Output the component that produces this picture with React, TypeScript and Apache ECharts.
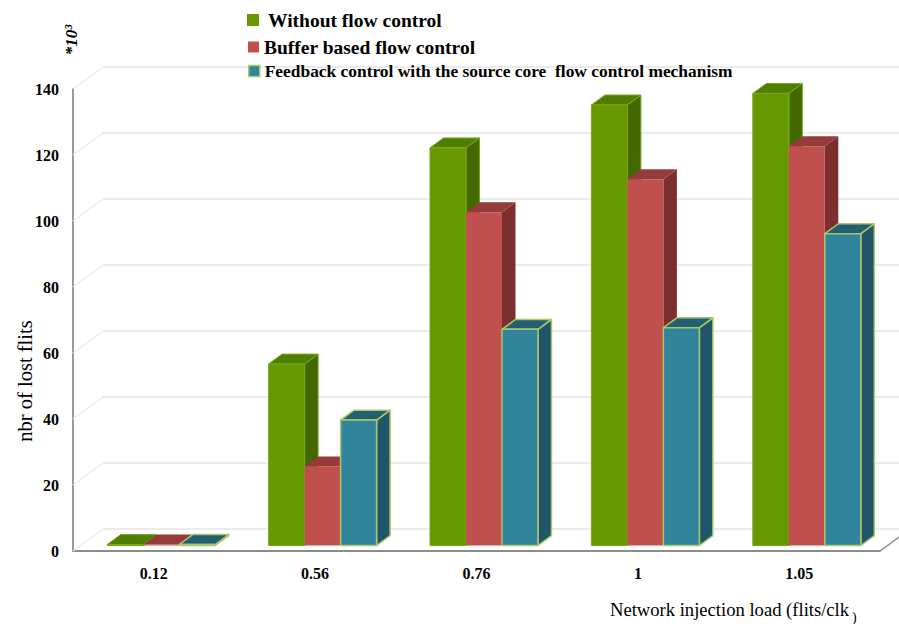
import React, { useEffect, useRef } from "react";
import * as echarts from "echarts";

const categories = ["0.12", "0.56", "0.76", "1", "1.05"];
const withoutFlow = [0.3, 55, 120.5, 133.5, 137];
const bufferBased = [0.3, 24, 101, 111, 121];
const feedbackCtrl = [0.3, 38, 65.5, 66, 94.5];
const yTicks = [0, 20, 40, 60, 80, 100, 120, 140];

const seriesNames = [
  "Without flow control",
  "Buffer based flow control",
  "Feedback control with the source core  flow control mechanism",
];

const SERIF = "'Liberation Serif', 'Times New Roman', serif";
const DX = 30;
const DY = -22;
const D0 = 0.25;
const D1 = 0.7;

const palettes = [
  { front: "#669900", top: "#4f7d00", side: "#436800", stroke: "#7aa81c", lw: 1 },
  { front: "#c0504d", top: "#953c3a", side: "#7b2f2e", stroke: "#c0504d", lw: 0 },
  { front: "#31849b", top: "#235f73", side: "#21566a", stroke: "#a9c86a", lw: 1.5 },
];

function makeBarRender(idx: number) {
  const pal = palettes[idx];
  return (params: any, api: any) => {
    const ci = api.value(0);
    const v = api.value(1);
    const base = api.coord([ci, 0]);
    const top = api.coord([ci, v]);
    const band = api.size([1, 0])[0];
    const w = band * 0.223;
    const offset = idx - 1;
    const x0 = base[0] + (offset - 0.5) * w + DX * D0;
    const x1 = x0 + w;
    const yb = base[1] + DY * D0;
    const yt = top[1] + DY * D0;
    const ddx = DX * (D1 - D0);
    const ddy = DY * (D1 - D0);
    const st = pal.lw > 0 ? { stroke: pal.stroke, lineWidth: pal.lw, lineJoin: "round" } : {};
    return {
      type: "group",
      children: [
        {
          type: "polygon",
          shape: { points: [[x1, yt], [x1 + ddx, yt + ddy], [x1 + ddx, yb + ddy], [x1, yb]] },
          style: { fill: pal.side, ...st },
        },
        {
          type: "polygon",
          shape: { points: [[x0, yt], [x1, yt], [x1 + ddx, yt + ddy], [x0 + ddx, yt + ddy]] },
          style: { fill: pal.top, ...st },
        },
        {
          type: "polygon",
          shape: { points: [[x0, yt], [x1, yt], [x1, yb], [x0, yb]] },
          style: { fill: pal.front, ...st },
        },
      ],
    };
  };
}

function renderWall(params: any, api: any) {
  const v = api.value(1);
  const p = api.coord([0, v]);
  const band = api.size([1, 0])[0];
  const xl = p[0] - band / 2;
  const xr = xl + band * categories.length;
  const children: any[] = [
    {
      type: "line",
      shape: { x1: xl, y1: p[1], x2: xl + DX, y2: p[1] + DY },
      style: { stroke: "#ececec", lineWidth: 1.5 },
    },
    {
      type: "line",
      shape: { x1: xl + DX, y1: p[1] + DY, x2: xr + DX, y2: p[1] + DY },
      style: { stroke: "#ebebeb", lineWidth: 2 },
    },
  ];
  if (v === 0) {
    children.push({
      type: "line",
      shape: { x1: xr, y1: p[1], x2: xr + DX, y2: p[1] + DY },
      style: { stroke: "#8c8c8c", lineWidth: 1.5 },
    });
  }
  return { type: "group", children };
}

export default function App() {
  const ref = useRef<HTMLDivElement>(null);
  useEffect(() => {
    if (!ref.current) return;
    const chart = echarts.init(ref.current, null, { renderer: "svg" });
    const dataSets = [withoutFlow, bufferBased, feedbackCtrl];
    const legendTops = [10, 37, 62];
    const legendSizes = [19.5, 19.5, 17.4];
    const legendLefts = [247, 248, 248];
    chart.setOption({
      animation: false,
      backgroundColor: "#ffffff",
      grid: { left: 73, right: 19, top: 89, bottom: 73, containLabel: false },
      legend: seriesNames.map((n, i) => ({
        data: [
          {
            name: n,
            icon: "rect",
            itemStyle:
              i === 2
                ? { color: palettes[i].front, borderColor: "#a9c86a", borderWidth: 1.5 }
                : { color: palettes[i].front, borderWidth: 0 },
          },
        ],
        left: legendLefts[i],
        top: legendTops[i],
        padding: 0,
        itemWidth: i === 0 ? 12 : 11,
        itemHeight: i === 0 ? 12 : 11,
        selectedMode: false,
        textStyle: {
          fontFamily: SERIF,
          fontWeight: "bold",
          fontSize: legendSizes[i],
          color: "#000",
          lineHeight: i === 2 ? 18 : 20,
          padding: i === 0 ? [0, 0, 0, 4] : 0,
        },
      })),
      xAxis: {
        type: "category",
        data: categories,
        boundaryGap: true,
        axisTick: { show: false },
        axisLine: { show: true, lineStyle: { color: "#8c8c8c", width: 2 } },
        axisLabel: {
          margin: 14,
          fontFamily: SERIF,
          fontWeight: "bold",
          fontSize: 16,
          color: "#000",
        },
        splitLine: { show: false },
      },
      yAxis: {
        type: "value",
        min: 0,
        max: 140,
        interval: 20,
        axisTick: { show: false },
        axisLine: { show: true, lineStyle: { color: "#9a9a9a", width: 2 } },
        axisLabel: {
          margin: 14,
          fontFamily: SERIF,
          fontWeight: "bold",
          fontSize: 16,
          color: "#000",
        },
        splitLine: { show: false },
      },
      graphic: [
        {
          type: "text",
          x: 25,
          y: 381,
          rotation: Math.PI / 2,
          style: {
            text: "nbr of lost flits",
            fontFamily: SERIF,
            fontSize: 20.5,
            fill: "#000",
            align: "center",
            verticalAlign: "middle",
          },
        },
        {
          type: "text",
          x: 71,
          y: 40,
          rotation: Math.PI / 2,
          style: {
            text: "*10³",
            fontFamily: SERIF,
            fontSize: 17,
            fontWeight: "bold",
            fontStyle: "italic",
            fill: "#000",
            align: "center",
            verticalAlign: "middle",
          },
        },
        {
          type: "text",
          x: 610,
          y: 609,
          style: {
            text: "Network injection load (flits/clk",
            fontFamily: SERIF,
            fontSize: 18.6,
            fill: "#000",
            align: "left",
            verticalAlign: "middle",
          },
        },
        {
          type: "text",
          x: 852,
          y: 617,
          style: {
            text: ")",
            fontFamily: SERIF,
            fontSize: 14,
            fill: "#000",
            align: "left",
            verticalAlign: "middle",
          },
        },
      ],
      series: [
        {
          type: "custom",
          name: "walls",
          z: 1,
          silent: true,
          renderItem: renderWall,
          data: yTicks.map((t) => [0, t]),
          encode: { x: 0, y: 1 },
        },
        ...dataSets.map((arr, i) => ({
          type: "custom",
          name: seriesNames[i],
          z: 2,
          itemStyle: { color: palettes[i].front },
          renderItem: makeBarRender(i),
          data: arr.map((v, ci) => [ci, v]),
          encode: { x: 0, y: 1 },
        })),
      ],
    });
    return () => chart.dispose();
  }, []);
  return (
    <div
      ref={ref}
      style={{ position: "fixed", left: 0, top: 0, width: 899, height: 624, background: "#fff" }}
    />
  );
}
